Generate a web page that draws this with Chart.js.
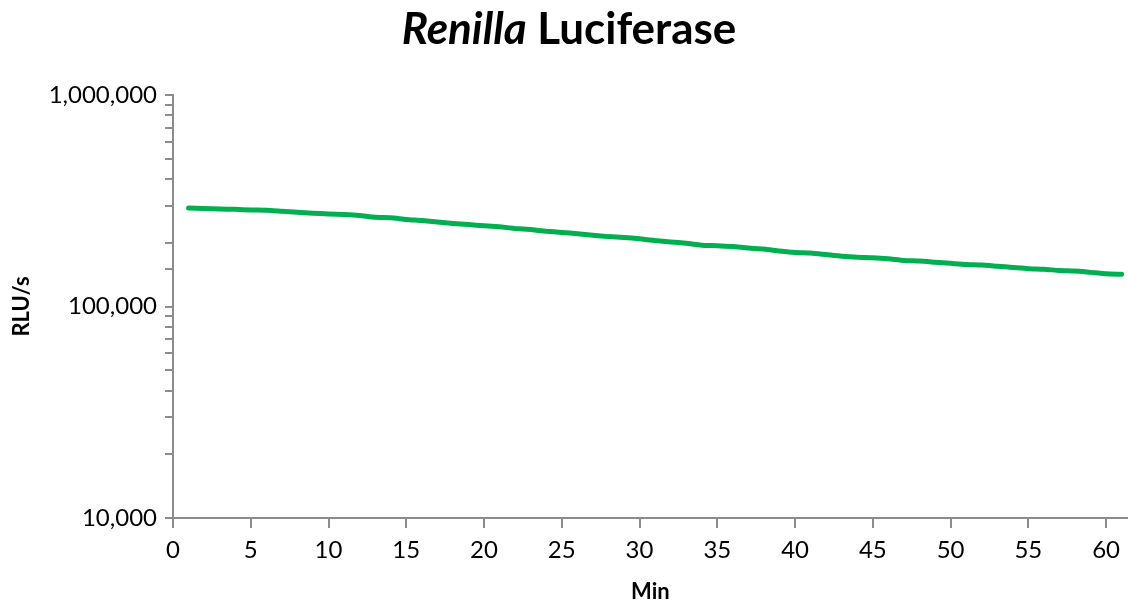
<!DOCTYPE html>
<html>
<head>
<meta charset="utf-8">
<script src="https://cdn.jsdelivr.net/npm/chart.js@4"></script>
<style>
  html, body { margin: 0; padding: 0; background: #fff; }
  canvas { display: block; }
</style>
</head>
<body>
<canvas id="myChart" width="1128" height="605"></canvas>
<script>
// minutes after reagent addition
const minutes = [
  1, 2, 3, 4, 5, 6, 7, 8, 9, 10,
  11, 12, 13, 14, 15, 16, 17, 18, 19, 20,
  21, 22, 23, 24, 25, 26, 27, 28, 29, 30,
  31, 32, 33, 34, 35, 36, 37, 38, 39, 40,
  41, 42, 43, 44, 45, 46, 47, 48, 49, 50,
  51, 52, 53, 54, 55, 56, 57, 58, 59, 60, 61
];

// RLU/s
const rlu = [
  292000, 291000, 289000, 288000, 286000, 285000, 282000, 279000, 276000, 274000,
  272000, 269000, 264000, 263000, 258000, 255000, 251000, 247000, 244000, 241000,
  238000, 234000, 231000, 227000, 224000, 221000, 217000, 214000, 212000, 209000,
  205000, 202000, 199000, 195000, 194000, 192000, 189000, 187000, 183000, 180000,
  179000, 176000, 173000, 171000, 170000, 168000, 165000, 164000, 162000, 160000,
  158000, 157000, 155000, 153000, 151000, 150000, 148000, 147000, 145000, 143000, 142000
];

const yLabels = [10000, 100000, 1000000];

const FONT = "Lato, 'Open Sans', sans-serif";
const AXIS = '#8c8c8c';

const titlePlugin = {
  id: 'mixedTitle',
  afterDraw(chart) {
    const c = chart.ctx;
    c.save();
    c.fillStyle = '#000';
    c.textBaseline = 'alphabetic';
    const a = 'Renilla', b = ' Luciferase';
    c.font = 'italic bold 44px ' + FONT;
    const wa = c.measureText(a).width;
    c.font = 'bold 44px ' + FONT;
    const wb = c.measureText(b).width;
    let x = 569 - (wa + wb) / 2;
    c.font = 'italic bold 44px ' + FONT;
    c.fillText(a, x, 44);
    c.font = 'bold 44px ' + FONT;
    c.fillText(b, x + wa, 44);
    c.restore();
  }
};

const ctx = document.getElementById('myChart').getContext('2d');

new Chart(ctx, {
  type: 'line',
  data: {
    datasets: [{
      label: 'Renilla Luciferase',
      data: minutes.map((m, i) => ({ x: m, y: rlu[i] })),
      borderColor: '#00b050',
      borderWidth: 5,
      pointRadius: 0,
      tension: 0.2,
      borderCapStyle: 'round'
    }]
  },
  options: {
    responsive: false,
    animation: false,
    layout: { padding: { top: 95, right: 0, left: 0, bottom: 0 } },
    plugins: {
      legend: { display: false },
      tooltip: { enabled: false }
    },
    scales: {
      x: {
        type: 'linear',
        min: 0,
        max: 61.4,
        afterFit: s => { s.height = 87; },
        border: { color: AXIS, width: 2 },
        grid: { drawOnChartArea: false, tickLength: 10, color: AXIS, lineWidth: 2 },
        ticks: {
          stepSize: 5,
          includeBounds: false,
          color: '#000',
          padding: 8,
          font: { family: FONT, size: 24 }
        },
        title: {
          display: true,
          text: 'Min',
          color: '#000',
          padding: { top: 0, bottom: 0 },
          font: { family: FONT, size: 22, weight: 'bold' }
        }
      },
      y: {
        type: 'logarithmic',
        min: 10000,
        max: 1000000,
        afterFit: s => { s.width = 173; },
        border: { color: AXIS, width: 2 },
        grid: { drawOnChartArea: false, tickLength: 8, color: AXIS, lineWidth: 2 },
        ticks: {
          autoSkip: false,
          color: '#000',
          padding: 8,
          font: { family: FONT, size: 24 },
          callback: v => yLabels.includes(v) ? v.toLocaleString('en-US') : ''
        },
        title: {
          display: true,
          text: 'RLU/s',
          color: '#000',
          padding: { top: 9, bottom: 0 },
          font: { family: FONT, size: 22, weight: 'bold' }
        }
      }
    }
  },
  plugins: [titlePlugin]
});
</script>
</body>
</html>
